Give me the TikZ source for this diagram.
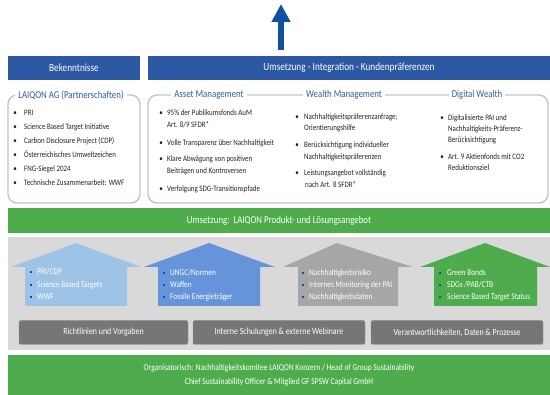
\documentclass[tikz,border=0pt]{standalone}
\usepackage{fontspec}
\setmainfont{Carlito}[FakeStretch=0.84]
\usetikzlibrary{arrows.meta}
\definecolor{hdrblue}{RGB}{44,88,164}
\definecolor{arrblue}{RGB}{16,80,160}
\definecolor{ttlblue}{RGB}{47,92,172}
\definecolor{frgray}{RGB}{196,196,196}
\definecolor{txtgray}{RGB}{35,35,35}
\definecolor{lgreen}{RGB}{78,172,76}
\definecolor{pgray}{RGB}{217,217,217}
\definecolor{hblue1}{RGB}{157,195,230}
\definecolor{hblue2}{RGB}{102,148,218}
\definecolor{hgray}{RGB}{166,166,166}
\definecolor{bgray}{RGB}{118,118,118}
\definecolor{dotblue}{RGB}{0,84,190}
\tikzset{
  header/.style={fill=hdrblue, text=white, inner sep=0pt, font=\fontsize{11}{13}\selectfont},
  frame/.style={draw=frgray, line width=1.4pt, rounded corners=9pt},
  ttl/.style={fill=white, text=ttlblue, inner sep=3pt, font=\fontsize{10.5}{12}\selectfont},
  itm/.style={anchor=base west, inner sep=0pt, text=txtgray, font=\fontsize{8.3}{10}\selectfont},
  dot/.style={anchor=base, inner sep=0pt, text=txtgray, font=\fontsize{8.3}{10}\selectfont},
  bar/.style={fill=lgreen, text=white, inner sep=0pt},
  hitm/.style={anchor=base west, inner sep=0pt, text=white, font=\fontsize{8.8}{10}\selectfont},
  hdot/.style={fill=dotblue, inner sep=0pt, minimum size=2.2pt},
  btn/.style={fill=bgray, draw=bgray!80, rounded corners=2pt, text=white, inner sep=0pt,
    minimum height=24pt, font=\fontsize{9.4}{11}\selectfont},
}
\begin{document}
\begin{tikzpicture}[x=1pt, y=-1pt]
\useasboundingbox (0,0) rectangle (550,395);

% arrow on top
\coordinate(abase) at (281,50);
\coordinate(atip) at (281,4);
\draw[arrblue, line width=6.5pt, -{Triangle[length=18pt, width=18pt]}] (abase) -- (atip);

% headers
\node[header, minimum width=132pt, minimum height=24pt](bek) at (74,68) {Bekenntnisse};
\node[header, minimum width=402pt, minimum height=24pt](ums) at (349,68) {Umsetzung - Integration - Kundenpräferenzen};

% frames
\draw[frame] (8,95) rectangle (140,203);
\draw[frame] (148,95) rectangle (548,203);
\node[ttl](lai) at (71,95) {LAIQON AG (Partnerschaften)};
\node[ttl](am) at (209,95) {Asset Management};
\node[ttl](wm) at (344,95) {Wealth Management};
\node[ttl](dw) at (477,95) {Digital Wealth};

% Bekenntnisse
\node[dot](d1) at (15,116) {\textbullet};
\node[itm](l1) at (24,116) {PRI};
\node[dot](d2) at (15,130) {\textbullet};
\node[itm](l2) at (24,130) {Science Based Target Initiative};
\node[dot](d3) at (15,144) {\textbullet};
\node[itm](l3) at (24,144) {Carbon Disclosure Project (CDP)};
\node[dot](d4) at (15,158) {\textbullet};
\node[itm](l4) at (24,158) {Österreichisches Umweltzeichen};
\node[dot](d5) at (15,172) {\textbullet};
\node[itm](l5) at (24,172) {FNG-Siegel 2024};
\node[dot](d6) at (15,186) {\textbullet};
\node[itm](l6) at (24,186) {Technische Zusammenarbeit: WWF};

% Asset Management
\node[dot](a1) at (161,116) {\textbullet};
\node[itm](am1) at (167,116) {95\% der Publikumsfonds AuM};
\node[itm](am2) at (167,128) {Art. 8/9 SFDR*};
\node[dot](a2) at (161,146) {\textbullet};
\node[itm](am3) at (167,146) {Volle Transparenz über Nachhaltigkeit};
\node[dot](a3) at (161,162) {\textbullet};
\node[itm](am4) at (167,162) {Klare Abwägung von positiven};
\node[itm](am5) at (167,174) {Beiträgen und Kontroversen};
\node[dot](a4) at (161,192) {\textbullet};
\node[itm](am6) at (167,192) {Verfolgung SDG-Transitionspfade};

% Wealth Management
\node[dot](w1) at (297,120) {\textbullet};
\node[itm](wm1) at (304,120) {Nachhaltigkeitspräferenzanfrage;};
\node[itm](wm2) at (304,131) {Orientierungshilfe};
\node[dot](w2) at (297,148) {\textbullet};
\node[itm](wm3) at (304,148) {Berücksichtigung individueller};
\node[itm](wm4) at (304,160) {Nachhaltigkeitspräferenzen};
\node[dot](w3) at (297,176) {\textbullet};
\node[itm](wm5) at (304,176) {Leistungsangebot vollständig};
\node[itm](wm6) at (305,188) {nach Art. 8 SFDR*};

% Digital Wealth
\node[dot](g1) at (442,121) {\textbullet};
\node[itm](dw1) at (448,121) {Digitalisierte PAI und};
\node[itm](dw2) at (448,132) {Nachhaltigkeits-Präferenz-};
\node[itm](dw3) at (448,143) {Berücksichtigung};
\node[dot](g2) at (442,160) {\textbullet};
\node[itm](dw4) at (448,160) {Art. 9 Aktienfonds mit CO2};
\node[itm](dw5) at (448,171) {Reduktionsziel};

% green bar
\node[bar, minimum width=542pt, minimum height=25pt, font=\fontsize{10.5}{12}\selectfont](pl) at (279,220.5) {Umsetzung:\ \ LAIQON Produkt- und Lösungsangebot};

% gray panel
\fill[pgray] (8,237) rectangle (550,350);

% houses
\fill[hblue1] (25,306) -- (25,267) -- (11,267) -- (76,243) -- (141,267) -- (127,267) -- (127,306) -- cycle;
\fill[hblue2] (158,306) -- (158,267) -- (144,267) -- (209,243) -- (275,267) -- (260,267) -- (260,306) -- cycle;
\fill[hgray] (298,306) -- (298,267) -- (283,267) -- (337,243) -- (413,267) -- (398,267) -- (398,306) -- cycle;
\fill[lgreen] (434,306) -- (434,267) -- (420,267) -- (485,243) -- (550,267) -- (537,267) -- (537,306) -- cycle;

\node[hdot](p1) at (31,272) {};
\node[hitm](h1) at (37,275) {PRI/CDP};
\node[hdot](p2) at (31,285) {};
\node[hitm](h2) at (37,288) {Science Based Targets};
\node[hdot](p3) at (31,297) {};
\node[hitm](h3) at (37,300) {WWF};

\node[hdot](q1) at (164,273) {};
\node[hitm](h4) at (170,276) {UNGC/Normen};
\node[hdot](q2) at (164,285) {};
\node[hitm](h5) at (170,288) {Waffen};
\node[hdot](q3) at (164,297) {};
\node[hitm](h6) at (170,300) {Fossile Energieträger};

\node[hdot](r1) at (303,273) {};
\node[hitm](h7) at (309,276) {Nachhaltigkeitsrisiko};
\node[hdot](r2) at (303,285) {};
\node[hitm](h8) at (309,288) {Internes Monitoring der PAI};
\node[hdot](r3) at (303,297) {};
\node[hitm](h9) at (309,300) {Nachhaltigkeitsdaten};

\node[hdot](s1) at (440,273) {};
\node[hitm](h10) at (447,276) {Green Bonds};
\node[hdot](s2) at (440,285) {};
\node[hitm](h11) at (447,288) {SDGs /PAB/CTB};
\node[hdot](s3) at (440,297) {};
\node[hitm](h12) at (447,300) {Science Based Target Status};

% buttons
\node[btn, minimum width=169pt](b1) at (103.5,332.5) {Richtlinien und Vorgaben};
\node[btn, minimum width=172pt](b2) at (279,332.5) {Interne Schulungen \& externe Webinare};
\node[btn, minimum width=172pt](b3) at (457,332.5) {Verantwortlichkeiten, Daten \& Prozesse};

% bottom bar
\node[bar, minimum width=542pt, minimum height=40pt, align=center, font=\fontsize{9}{14}\selectfont](org) at (279,375)
  {Organisatorisch: Nachhaltigkeitskomitee LAIQON Konzern / Head of Group Sustainability\\
   Chief Sustainability Officer \& Mitglied GF SPSW Capital GmbH};

\end{tikzpicture}
\end{document}
